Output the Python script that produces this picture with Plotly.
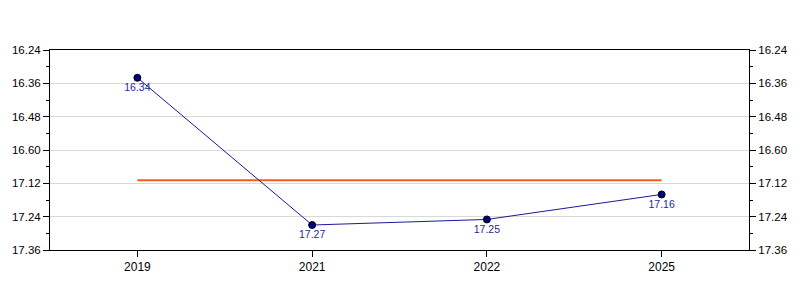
import numpy as np
import plotly.graph_objects as go

years = ["2019", "2021", "2022", "2025"]
values = [16.34, 17.27, 17.25, 17.16]
value_labels = ["16.34", "17.27", "17.25", "17.16"]
tick_labels = [16.24, 16.36, 16.48, 16.60, 17.12, 17.24, 17.36]
reference_level = 17.07

# axis is drawn with evenly spaced (broken) ticks: map values onto tick index space
tick_idx = np.arange(len(tick_labels))
def to_axis(v):
    return np.interp(v, tick_labels, tick_idx)

y_pos = to_axis(np.array(values))
ref_pos = float(to_axis(reference_level))

fig = go.Figure()
fig.add_trace(go.Scatter(
    x=years, y=[ref_pos] * len(years), mode="lines",
    line=dict(color="#FF5A1A", width=2), hoverinfo="skip", showlegend=False))
fig.add_trace(go.Scatter(
    x=years, y=y_pos, mode="lines+markers+text",
    line=dict(color="#1a1a9a", width=1),
    marker=dict(size=7, color="#000080", line=dict(color="#000000", width=1)),
    text=value_labels, textposition="bottom center",
    textfont=dict(family="Liberation Sans, Arial", size=10.5, color="#1f1f9f"),
    showlegend=False))

# right-hand mirrored axis
fig.add_trace(go.Scatter(x=years, y=y_pos, yaxis="y2", mode="markers",
                         marker=dict(opacity=0), hoverinfo="skip", showlegend=False))

yax = dict(
    range=[len(tick_labels) - 1, 0], tickmode="array", tickvals=list(tick_idx),
    ticktext=[f"{t:.2f}" for t in tick_labels], ticks="outside", ticklen=6,
    tickcolor="#000", showline=True, linecolor="#000", linewidth=1,
    showgrid=True, gridcolor="#d9d9d9", gridwidth=1, zeroline=False,
    minor=dict(tickvals=list(tick_idx[:-1] + 0.5), ticks="outside", ticklen=3,
               tickcolor="#000", showgrid=False),
    tickfont=dict(family="Liberation Sans, Arial", size=11.5, color="#000"),
)
fig.update_layout(
    width=800, height=300, paper_bgcolor="white", plot_bgcolor="white",
    margin=dict(l=50, r=49, t=50, b=50),
    xaxis=dict(type="category", range=[-0.5, 3.5], showline=True, linecolor="#000",
               mirror=True, ticks="outside", ticklen=6, tickcolor="#000", showgrid=False,
               tickfont=dict(family="Liberation Sans, Arial", size=12, color="#000")),
    yaxis=yax,
    yaxis2=dict(yax, overlaying="y", side="right", showgrid=False),
)
fig.write_html("out.html")
